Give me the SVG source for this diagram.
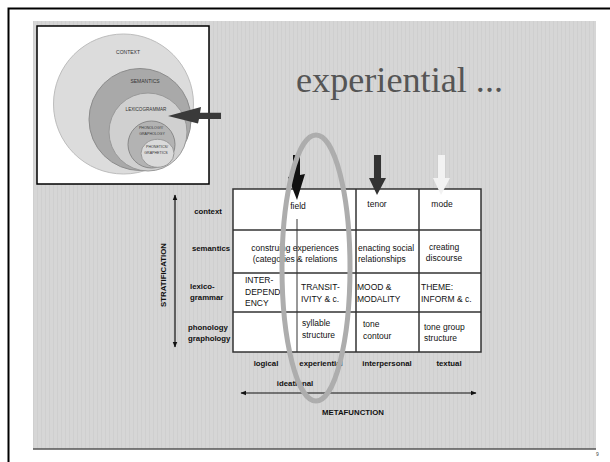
<svg xmlns="http://www.w3.org/2000/svg" width="610" height="462" viewBox="0 0 610 462">
<defs>
<pattern id="tex" width="4" height="10" patternUnits="userSpaceOnUse">
<rect width="4" height="10" fill="#d6d6d6"/>
<rect x="1" width="1" height="10" fill="#cfcfcf"/>
</pattern>
<marker id="ah" viewBox="0 0 10 10" refX="9" refY="5" markerWidth="6" markerHeight="6" orient="auto-start-reverse" markerUnits="userSpaceOnUse">
<path d="M0,1 L10,5 L0,9 Z" fill="#111"/>
</marker>
</defs>
<style>
.cell{font-family:"Liberation Sans","DejaVu Sans",sans-serif;font-size:8.5px;fill:#111}
.lab{font-family:"Liberation Sans","DejaVu Sans",sans-serif;font-size:7.8px;font-weight:bold;fill:#111}
.tiny{font-family:"Liberation Sans","DejaVu Sans",sans-serif;fill:#333;text-anchor:middle}
.grid{stroke:#333;stroke-width:1.5;fill:none}
.axis{stroke:#111;stroke-width:1.2;fill:none}
</style>
<rect width="610" height="462" fill="#fff"/>
<path d="M8.5,462 V8.5 H610" fill="none" stroke="#000" stroke-width="2"/>
<rect x="33" y="21" width="563" height="428" fill="url(#tex)"/>
<line x1="33" y1="449" x2="596" y2="449" stroke="#555" stroke-width="1.5"/>
<text x="596" y="456" font-family="Liberation Sans, sans-serif" font-size="5" fill="#444">9</text>

<g id="inset">
<rect x="37" y="26" width="172" height="158" fill="#fff" stroke="#000" stroke-width="1.5"/>
<circle cx="123.5" cy="104" r="70" fill="#dcdcdc" stroke="#bdbdbd"/>
<circle cx="140" cy="119.5" r="51" fill="#a9a9a9" stroke="#8c8c8c"/>
<circle cx="148" cy="132" r="39" fill="#d0d0d0" stroke="#999"/>
<circle cx="151.5" cy="144.5" r="23.5" fill="#b3b3b3" stroke="#888"/>
<ellipse cx="157.5" cy="153.3" rx="16.5" ry="14" fill="#dadada" stroke="#999"/>
<text class="tiny" x="128" y="54" font-size="5">CONTEXT</text>
<text class="tiny" x="145" y="83" font-size="5">SEMANTICS</text>
<text class="tiny" x="146" y="111" font-size="4.6">LEXICOGRAMMAR</text>
<text class="tiny" x="151" y="129" font-size="3.6">PHONOLOGY/</text>
<text class="tiny" x="152" y="135" font-size="3.6">GRAPHOLOGY</text>
<text class="tiny" x="157" y="148" font-size="3.6">PHONETICS/</text>
<text class="tiny" x="156" y="154" font-size="3.6">GRAPHETICS</text>
<polygon points="168,116 201,107 200,112.7 221,112.7 221,119 199,119 198,123.5" fill="#3a3a3a"/>
</g>

<g id="title">
<text x="296" y="92" font-family="Liberation Serif, serif" font-size="35" fill="#555" textLength="207" lengthAdjust="spacingAndGlyphs">experiential ...</text>
</g>

<g id="table">
<rect x="233" y="189" width="248" height="163" fill="#fff"/>
<rect x="233" y="189" width="248" height="163" class="grid"/>
<line x1="233" y1="230" x2="481" y2="230" class="grid"/>
<line x1="233" y1="273" x2="481" y2="273" class="grid"/>
<line x1="233" y1="312" x2="481" y2="312" class="grid"/>
<line x1="356" y1="189" x2="356" y2="352" class="grid"/>
<line x1="419" y1="189" x2="419" y2="352" class="grid"/>
<line x1="297" y1="219" x2="297" y2="352" stroke="#333" stroke-width="1"/>
<text class="cell" x="298" y="209" text-anchor="middle">field</text>
<text class="cell" x="377" y="207" text-anchor="middle">tenor</text>
<text class="cell" x="442" y="207" text-anchor="middle">mode</text>
<text class="cell" x="295" y="251" text-anchor="middle">construing experiences</text>
<text class="cell" x="295" y="262" text-anchor="middle">(categories &amp; relations</text>
<text class="cell" x="358" y="251">enacting social</text>
<text class="cell" x="358" y="262">relationships</text>
<text class="cell" x="444" y="250" text-anchor="middle">creating</text>
<text class="cell" x="444" y="261" text-anchor="middle">discourse</text>
<text class="cell" x="245" y="283">INTER-</text>
<text class="cell" x="245" y="295">DEPEND-</text>
<text class="cell" x="245" y="306">ENCY</text>
<text class="cell" x="301" y="290">TRANSIT-</text>
<text class="cell" x="301" y="302">IVITY &amp; c.</text>
<text class="cell" x="357" y="290">MOOD &amp;</text>
<text class="cell" x="357" y="302">MODALITY</text>
<text class="cell" x="421" y="290">THEME:</text>
<text class="cell" x="421" y="302">INFORM &amp; c.</text>
<text class="cell" x="302" y="326">syllable</text>
<text class="cell" x="302" y="338">structure</text>
<text class="cell" x="363" y="327">tone</text>
<text class="cell" x="363" y="339">contour</text>
<text class="cell" x="424" y="330">tone group</text>
<text class="cell" x="424" y="341">structure</text>
</g>

<g id="row-labels">
<text class="lab" x="208" y="214" text-anchor="middle">context</text>
<text class="lab" x="211" y="251" text-anchor="middle">semantics</text>
<text class="lab" x="190" y="289">lexico-</text>
<text class="lab" x="190" y="300">grammar</text>
<text class="lab" x="188" y="330">phonology</text>
<text class="lab" x="188" y="341">graphology</text>
<text class="lab" x="0" y="0" font-size="9.5" text-anchor="middle" transform="translate(165.5,275) rotate(-90)">STRATIFICATION</text>
</g>

<g id="col-labels">
<text class="lab" x="266" y="366" text-anchor="middle">logical</text>
<text class="lab" x="321" y="366" text-anchor="middle">experiential</text>
<text class="lab" x="387" y="366" text-anchor="middle">interpersonal</text>
<text class="lab" x="449" y="366" text-anchor="middle">textual</text>
<text class="lab" x="295" y="386" text-anchor="middle">ideational</text>
<text class="lab" x="353" y="415" text-anchor="middle" font-size="9">METAFUNCTION</text>
</g>

<g id="connectors">
<line x1="175" y1="195" x2="175" y2="347" class="axis" marker-start="url(#ah)" marker-end="url(#ah)"/>
<line x1="241" y1="393" x2="476" y2="393" class="axis" marker-start="url(#ah)" marker-end="url(#ah)"/>
<polygon points="293,155 300,155 300,175 305,174 297,200 288,177 293,176" fill="#111"/>
<polygon points="374,155 381,155 381,178 386,178 377,195 369,178 374,178" fill="#333"/>
<polygon points="438,155 445,155 445,178 450,178 441,195 433,178 438,178" fill="#f2f2f2"/>
</g>

<g id="highlight">
<ellipse cx="316" cy="268" rx="34" ry="133" fill="none" stroke="#adadad" stroke-width="5"/>
</g>
</svg>
